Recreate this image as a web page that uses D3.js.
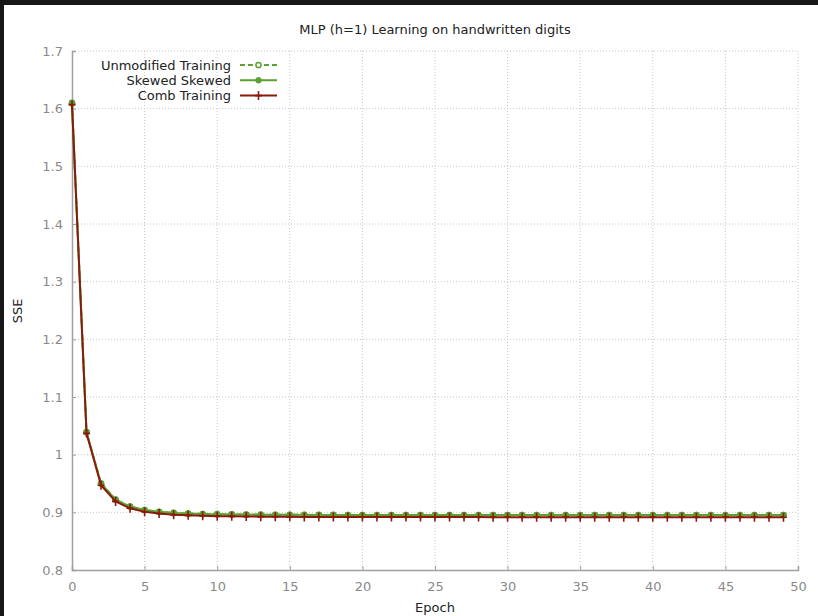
<!DOCTYPE html>
<html>
<head>
<meta charset="utf-8">
<script src="https://cdn.jsdelivr.net/npm/d3@7"></script>
<style>
  html, body { margin: 0; padding: 0; background: #fff; }
  text { font-family: "DejaVu Sans", Verdana, sans-serif; }
</style>
</head>
<body>
<div id="chart"></div>
<script>
const epochs = d3.range(0, 50);

const unmodified = [1.610, 1.039, 0.950, 0.922, 0.910, 0.904, 0.901, 0.899, 0.898, 0.897,
  0.8968, 0.8965, 0.8962, 0.896, 0.8958, 0.8957, 0.8956, 0.8955, 0.8955, 0.8954,
  0.8954, 0.8954, 0.8953, 0.8953, 0.8953, 0.8953, 0.8953, 0.8953, 0.8953, 0.8953,
  0.8953, 0.8953, 0.8953, 0.8953, 0.8953, 0.8953, 0.8953, 0.8953, 0.8953, 0.8953,
  0.8953, 0.8953, 0.8953, 0.8953, 0.8953, 0.8953, 0.8953, 0.8953, 0.8953, 0.8953];

const skewed = [1.609, 1.039, 0.950, 0.922, 0.910, 0.904, 0.901, 0.899, 0.898, 0.897,
  0.8967, 0.8964, 0.8961, 0.8959, 0.8958, 0.8957, 0.8956, 0.8955, 0.8954, 0.8954,
  0.8953, 0.8953, 0.8953, 0.8953, 0.8953, 0.8953, 0.8953, 0.8953, 0.8953, 0.8953,
  0.8953, 0.8953, 0.8953, 0.8953, 0.8953, 0.8953, 0.8953, 0.8953, 0.8953, 0.8953,
  0.8953, 0.8953, 0.8953, 0.8953, 0.8953, 0.8953, 0.8953, 0.8953, 0.8953, 0.8953];

const comb = [1.607, 1.037, 0.947, 0.919, 0.907, 0.901, 0.898, 0.896, 0.8948, 0.894,
  0.8934, 0.893, 0.8927, 0.8925, 0.8923, 0.8922, 0.8921, 0.892, 0.892, 0.892,
  0.8919, 0.8919, 0.8918, 0.8918, 0.8918, 0.8917, 0.8917, 0.8917, 0.8917, 0.8916,
  0.8916, 0.8916, 0.8916, 0.8916, 0.8916, 0.8915, 0.8915, 0.8915, 0.8915, 0.8915,
  0.8915, 0.8915, 0.8915, 0.8915, 0.8915, 0.8915, 0.8915, 0.8915, 0.8915, 0.8915];

const xTicks = [0, 5, 10, 15, 20, 25, 30, 35, 40, 45, 50];
const yTicks = [0.8, 0.9, 1, 1.1, 1.2, 1.3, 1.4, 1.5, 1.6, 1.7];

const width = 818, height = 616;
const plotLeft = 72, plotRight = 798, plotTop = 51, plotBottom = 570;

const green = "#5da132";
const red = "#8b1a0e";

const svg = d3.select("#chart").append("svg")
  .attr("width", width)
  .attr("height", height);

// dark frame bits at top and left
svg.append("rect").attr("x", 0).attr("y", 0).attr("width", width).attr("height", 5).attr("fill", "#171717");
svg.append("rect").attr("x", 0).attr("y", 0).attr("width", 4).attr("height", height).attr("fill", "#171717");

const x = d3.scaleLinear().domain([0, 50]).range([plotLeft, plotRight]);
const y = d3.scaleLinear().domain([0.8, 1.7]).range([plotBottom, plotTop]);

// grid
const grid = svg.append("g").attr("stroke", "#c8c8c8").attr("stroke-dasharray", "1,2");
grid.selectAll("line.v").data(xTicks.slice(1)).join("line")
  .attr("x1", d => x(d)).attr("x2", d => x(d))
  .attr("y1", plotTop).attr("y2", plotBottom);
grid.selectAll("line.h").data(yTicks.slice(1)).join("line")
  .attr("x1", plotLeft).attr("x2", plotRight)
  .attr("y1", d => y(d)).attr("y2", d => y(d));

// axes
const xAxis = svg.append("g")
  .attr("transform", `translate(0,${plotBottom})`)
  .call(d3.axisBottom(x).tickValues(xTicks).tickSize(-4).tickPadding(12).tickFormat(d3.format("d")));
const yAxis = svg.append("g")
  .attr("transform", `translate(${plotLeft},0)`)
  .call(d3.axisLeft(y).tickValues(yTicks).tickSize(-4).tickPadding(9).tickFormat(d => String(+d.toFixed(1))));

[xAxis, yAxis].forEach(a => {
  a.select(".domain").attr("stroke", "#a0a0a0").attr("stroke-width", 1.5);
  a.selectAll(".tick line").attr("stroke", "#a0a0a0");
  a.selectAll(".tick text").attr("fill", "#8a8a8a").style("font-size", "13px");
});

// titles
svg.append("text").attr("x", 435).attr("y", 34).attr("text-anchor", "middle")
  .attr("fill", "#222").style("font-size", "13px")
  .text("MLP (h=1) Learning on handwritten digits");
svg.append("text").attr("x", 435).attr("y", 612).attr("text-anchor", "middle")
  .attr("fill", "#222").style("font-size", "13px").text("Epoch");
svg.append("text").attr("transform", "translate(22,311) rotate(-90)").attr("text-anchor", "middle")
  .attr("fill", "#222").style("font-size", "13px").text("SSE");

const series = [
  {name: "Unmodified Training", values: unmodified, color: green, dash: "5,3", marker: "open"},
  {name: "Skewed Skewed", values: skewed, color: green, dash: null, marker: "dot"},
  {name: "Comb Training", values: comb, color: red, dash: null, marker: "plus"}
];

const line = d3.line().x((d, i) => x(epochs[i])).y(d => y(d));

function drawMarker(g, marker, color) {
  if (marker === "open") {
    g.append("circle").attr("r", 2.6).attr("fill", "#fff").attr("stroke", color).attr("stroke-width", 1.5);
  } else if (marker === "dot") {
    g.append("circle").attr("r", 2.8).attr("fill", color).attr("stroke", color).attr("stroke-width", 1);
  } else {
    g.append("path").attr("d", "M-3.5,0H3.5M0,-4.5V4.5").attr("stroke", color).attr("stroke-width", 1.6);
  }
}

series.forEach(s => {
  svg.append("path")
    .datum(s.values)
    .attr("fill", "none")
    .attr("stroke", s.color)
    .attr("stroke-width", 2)
    .attr("stroke-dasharray", s.dash)
    .attr("d", line);
  svg.append("g").selectAll("g").data(s.values).join("g")
    .attr("transform", (d, i) => `translate(${x(epochs[i])},${y(d)})`)
    .each(function() { drawMarker(d3.select(this), s.marker, s.color); });
});

// legend
const legend = svg.append("g");
series.forEach((s, i) => {
  const ly = 65 + i * 15.3;
  legend.append("text").attr("x", 231).attr("y", ly + 4.5).attr("text-anchor", "end")
    .attr("fill", "#222").style("font-size", "13px").text(s.name);
  legend.append("line").attr("x1", 240).attr("x2", 277).attr("y1", ly).attr("y2", ly)
    .attr("stroke", s.color).attr("stroke-width", 2).attr("stroke-dasharray", s.dash);
  const m = legend.append("g").attr("transform", `translate(258.5,${ly})`);
  drawMarker(m, s.marker, s.color);
});
</script>
</body>
</html>
